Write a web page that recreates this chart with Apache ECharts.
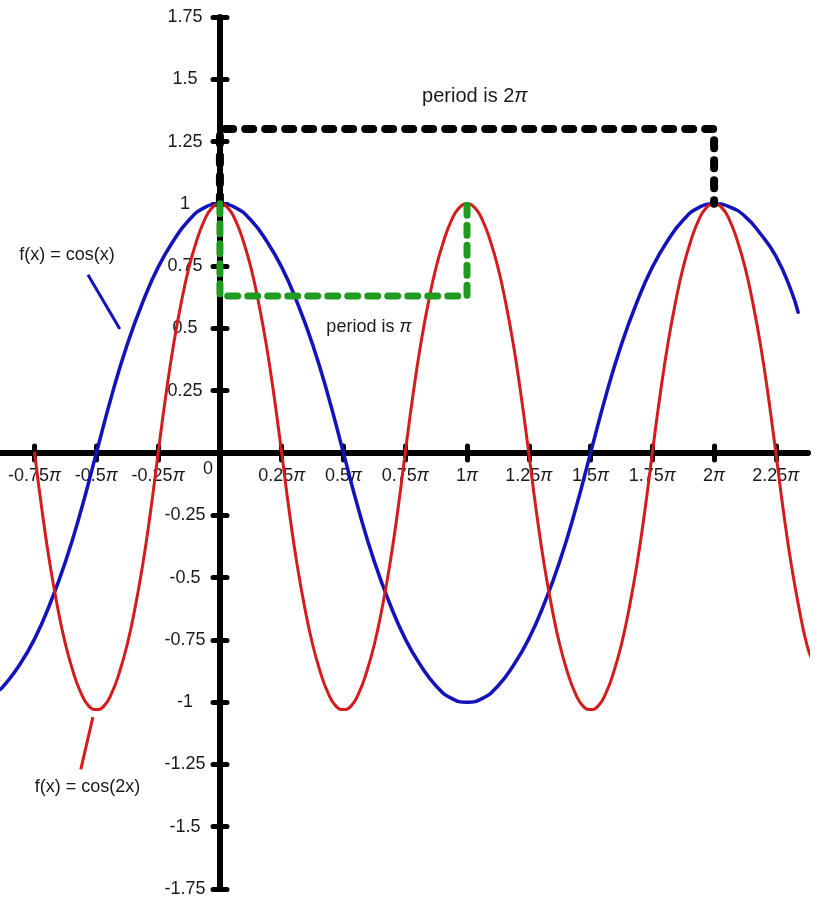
<!DOCTYPE html>
<html><head><meta charset="utf-8">
<script src="https://cdn.jsdelivr.net/npm/echarts@6/dist/echarts.min.js"></script>
<style>html,body{margin:0;padding:0;background:#fff}#c{width:820px;height:900px}</style>
</head><body><div id="c"></div>
<script>
// x values are in units of π
const xTickValues = [-0.75,-0.5,-0.25,0.25,0.5,0.75,1,1.25,1.5,1.75,2,2.25];
const xTickLabels = ['-0.75π','-0.5π','-0.25π','0.25π','0.5π','0.75π','1π','1.25π','1.5π','1.75π','2π','2.25π'];

// f(x) = cos(x)  (blue)
const blueX = [-0.89,-0.875,-0.8125,-0.75,-0.6875,-0.625,-0.5625,-0.5,-0.4375,-0.375,-0.3125,-0.25,-0.1875,-0.125,-0.0625,0,0.0625,0.125,0.1875,0.25,0.3125,0.375,0.4375,0.5,0.5625,0.625,0.6875,0.75,0.8125,0.875,0.9375,1,1.0625,1.125,1.1875,1.25,1.3125,1.375,1.4375,1.5,1.5625,1.625,1.6875,1.75,1.8125,1.875,1.9375,2,2.0625,2.125,2.1875,2.25,2.3125,2.34];
const blueY = [-0.95,-0.935,-0.853,-0.746,-0.605,-0.436,-0.232,0,0.232,0.436,0.605,0.746,0.853,0.935,0.985,1,0.985,0.935,0.853,0.746,0.605,0.436,0.232,0,-0.232,-0.436,-0.605,-0.746,-0.853,-0.935,-0.985,-1,-0.985,-0.935,-0.853,-0.746,-0.605,-0.436,-0.232,0,0.232,0.436,0.605,0.746,0.853,0.935,0.985,1,0.988,0.95,0.88,0.79,0.65,0.565];

// f(x) = cos(2x)  (red)
const redX = [-0.75,-0.71875,-0.6875,-0.65625,-0.625,-0.59375,-0.5625,-0.53125,-0.5,-0.46875,-0.4375,-0.40625,-0.375,-0.34375,-0.3125,-0.28125,-0.25,-0.21875,-0.1875,-0.15625,-0.125,-0.09375,-0.0625,-0.03125,
  0,0.03125,0.0625,0.09375,0.125,0.15625,0.1875,0.21875,0.25,0.28125,0.3125,0.34375,0.375,0.40625,0.4375,0.46875,0.5,0.53125,0.5625,0.59375,0.625,0.65625,0.6875,0.71875,0.75,0.78125,0.8125,0.84375,0.875,0.90625,0.9375,0.96875,
  1,1.03125,1.0625,1.09375,1.125,1.15625,1.1875,1.21875,1.25,1.28125,1.3125,1.34375,1.375,1.40625,1.4375,1.46875,1.5,1.53125,1.5625,1.59375,1.625,1.65625,1.6875,1.71875,1.75,1.78125,1.8125,1.84375,1.875,1.90625,1.9375,1.96875,
  2,2.03125,2.0625,2.09375,2.125,2.15625,2.1875,2.21875,2.25,2.28125,2.3125,2.34375,2.375,2.4];
const redY = [0,-0.239,-0.449,-0.623,-0.768,-0.879,-0.963,-1.015,-1.03,-1.015,-0.963,-0.879,-0.768,-0.623,-0.449,-0.239,0,0.232,0.436,0.605,0.746,0.853,0.935,0.985,
  1,0.985,0.935,0.853,0.746,0.605,0.436,0.232,0,-0.239,-0.449,-0.623,-0.768,-0.879,-0.963,-1.015,-1.03,-1.015,-0.963,-0.879,-0.768,-0.623,-0.449,-0.239,0,0.232,0.436,0.605,0.746,0.853,0.935,0.985,
  1,0.985,0.935,0.853,0.746,0.605,0.436,0.232,0,-0.239,-0.449,-0.623,-0.768,-0.879,-0.963,-1.015,-1.03,-1.015,-0.963,-0.879,-0.768,-0.623,-0.449,-0.239,0,0.232,0.436,0.605,0.746,0.853,0.935,0.985,
  1,0.985,0.935,0.853,0.746,0.605,0.436,0.232,0,-0.239,-0.449,-0.623,-0.768,-0.84];

// period brackets
const period2PiX = [0,0,2,2];
const period2PiY = [1,1.3,1.3,1];
const periodPiX = [0,0,1,1];
const periodPiY = [1,0.63,0.63,1];

const annotTexts = ['period is 2π','period is π','f(x) = cos(x)','f(x) = cos(2x)'];

const FONT = 'Liberation Sans';
const TXT = '#1a1a1a';
const BLUE = '#1313bb';
const RED = '#d41c1c';
const pairs = (xs, ys) => xs.map((x, i) => [x, ys[i]]);
const piRich = s => s.replace('π', '{p|π}');

const chart = echarts.init(document.getElementById('c'), null, { renderer: 'canvas' });

// grid: left 0, right edge 808, top 17, bottom 889 -> x=0 at 220px, y=0 at 453px
const xBase = { type: 'value', min: -0.89, max: 2.38, splitLine: { show: false } };
const yBase = { type: 'value', min: -1.75, max: 1.75, interval: 0.25, splitLine: { show: false } };
const tickStyle = { color: '#000', width: 5, cap: 'round' };

chart.setOption({
  animation: false,
  backgroundColor: '#fff',
  textStyle: { fontFamily: FONT },
  grid: { left: 0, right: 12, top: 17, bottom: 11, containLabel: false, outerBoundsMode: 'none' },
  xAxis: [
    Object.assign({}, xBase, {
      position: 'bottom', offset: -436,
      axisLine: { show: true, onZero: false, lineStyle: { color: '#000', width: 6, cap: 'round' } },
      axisTick: { show: true, customValues: xTickValues, length: 7, lineStyle: tickStyle },
      axisLabel: {
        show: true, customValues: xTickValues, margin: 14, fontSize: 18, fontFamily: FONT, color: TXT,
        formatter: function (v) { const i = xTickValues.indexOf(v); return i < 0 ? '' : piRich(xTickLabels[i]); },
        rich: { p: { fontSize: 18, fontFamily: FONT, color: TXT, fontStyle: 'italic' } }
      }
    }),
    Object.assign({}, xBase, {
      position: 'top', offset: -436,
      axisLine: { show: false, onZero: false },
      axisTick: { show: true, customValues: xTickValues, length: 7, lineStyle: tickStyle },
      axisLabel: { show: false }
    })
  ],
  yAxis: [
    Object.assign({}, yBase, {
      position: 'left', offset: -220,
      axisLine: { show: true, onZero: false, lineStyle: { color: '#000', width: 6, cap: 'round' } },
      axisTick: { show: true, length: 7, lineStyle: tickStyle },
      axisLabel: {
        show: true, margin: 35, align: 'center', fontSize: 18, fontFamily: FONT, color: TXT,
        formatter: function (v) { return v === 0 ? '{z|0}' : String(v); },
        rich: { z: { fontSize: 18, fontFamily: FONT, color: TXT, padding: [32, 0, 0, 46] } }
      }
    }),
    Object.assign({}, yBase, {
      position: 'right', offset: -588,
      axisLine: { show: false, onZero: false },
      axisTick: { show: true, length: 7, lineStyle: tickStyle },
      axisLabel: { show: false }
    })
  ],
  series: [
    { type: 'line', name: 'cos(x)', data: pairs(blueX, blueY), smooth: true, symbol: 'none', z: 3,
      lineStyle: { color: BLUE, width: 3.5, cap: 'round' }, silent: true },
    { type: 'line', name: 'cos(2x)', data: pairs(redX, redY), smooth: true, symbol: 'none', z: 4,
      lineStyle: { color: RED, width: 3, cap: 'round' }, silent: true },
    { type: 'line', name: 'period 2π', data: pairs(period2PiX, period2PiY), symbol: 'none', z: 5, silent: true,
      lineStyle: { color: '#000', width: 8, type: [8, 12], cap: 'round', join: 'round' } },
    { type: 'line', name: 'period π', data: pairs(periodPiX, periodPiY), symbol: 'none', z: 5, silent: true,
      lineStyle: { color: '#1f9c1f', width: 7, type: [10, 10], cap: 'round', join: 'round' } },
    { type: 'line', name: 'ptr blue', data: [[-0.534, 0.715], [-0.405, 0.498]], symbol: 'none', z: 5, silent: true,
      lineStyle: { color: BLUE, width: 3 } },
    { type: 'line', name: 'ptr red', data: [[-0.514, -1.06], [-0.563, -1.27]], symbol: 'none', z: 5, silent: true,
      lineStyle: { color: RED, width: 3 } },
    { type: 'scatter', name: 'notes', symbolSize: 1, itemStyle: { color: 'rgba(0,0,0,0)' }, z: 6, silent: true,
      label: {
        show: true, position: 'inside', align: 'center', verticalAlign: 'middle',
        fontFamily: FONT, color: TXT, fontSize: 18, opacity: 1,
        formatter: function (p) { return piRich(p.name); },
        rich: { p: { fontStyle: 'italic', fontFamily: FONT, color: TXT } }
      },
      data: [
        { value: [1.032, 1.43], name: annotTexts[0], label: { fontSize: 20, rich: { p: { fontStyle: 'italic', fontSize: 20, fontFamily: FONT, color: TXT } } } },
        { value: [0.603, 0.506], name: annotTexts[1], label: { fontSize: 18, rich: { p: { fontStyle: 'italic', fontSize: 18, fontFamily: FONT, color: TXT } } } },
        { value: [-0.619, 0.795], name: annotTexts[2], label: { fontSize: 18 } },
        { value: [-0.536, -1.341], name: annotTexts[3], label: { fontSize: 18 } }
      ]
    }
  ]
});
</script>
</body></html>
